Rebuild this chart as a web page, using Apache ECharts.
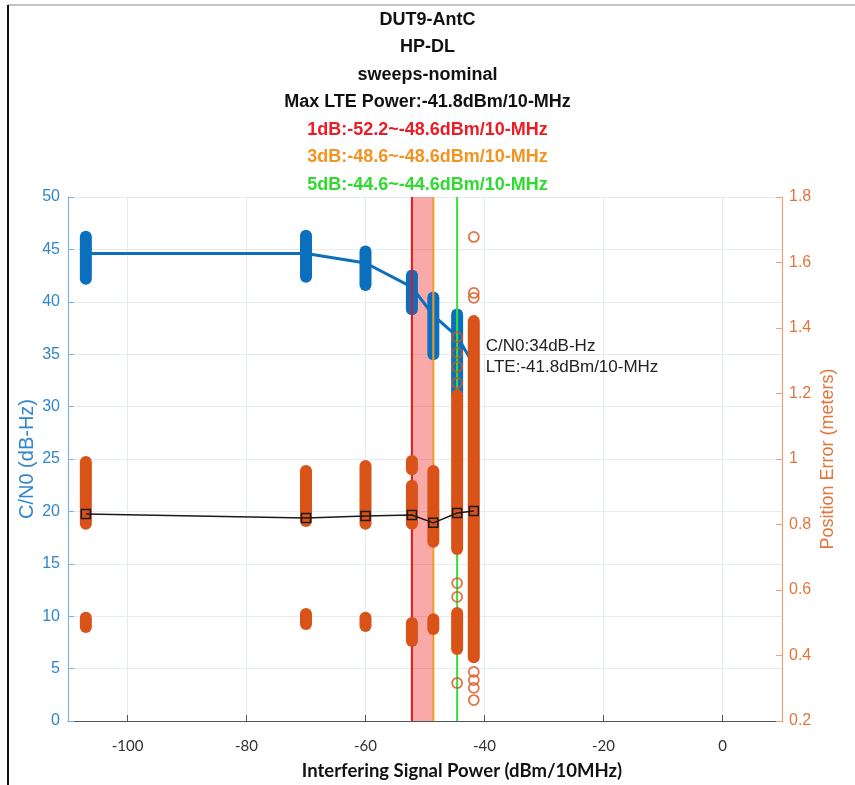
<!DOCTYPE html>
<html>
<head>
<meta charset="utf-8">
<title>DUT9-AntC HP-DL</title>
<script src="https://cdn.jsdelivr.net/npm/echarts@6/dist/echarts.min.js"></script>
<style>
  html, body { margin: 0; padding: 0; background: #fff; }
  #chart { width: 855px; height: 785px; }
</style>
</head>
<body>
<div id="chart"></div>
<script>
// ---- data ----
const deviceName = 'DUT9-AntC';
const testCase = 'HP-DL';
const sweepName = 'sweeps-nominal';
const maxLtePower = -41.8;
const cn0AtMax = 34;

// interference power levels of each sweep step (dBm/10MHz)
const powerLevels = [-107, -70, -60, -52.2, -48.6, -44.6, -41.8];

// C/N0 (dB-Hz): mean per step and the spread of its samples
const cn0Mean = [44.6, 44.6, 43.7, 41.4, 38.7, 36.7, 34];
const cn0SpreadPower = [-107, -70, -60, -52.2, -48.6, -44.6];
const cn0SpreadLow = [42.2, 42.4, 41.6, 39.3, 35.0, 31.0];
const cn0SpreadHigh = [46.2, 46.3, 44.8, 42.5, 40.4, 38.8];

// position error (m): mean per step
const posErrMean = [0.832, 0.820, 0.826, 0.829, 0.805, 0.835, 0.841];
// dense runs of position-error samples
const posRunPower = [-107, -107, -70, -70, -60, -60, -52.2, -52.2, -52.2, -48.6, -48.6, -44.6, -44.6, -41.8];
const posRunLow = [0.802, 0.487, 0.811, 0.496, 0.802, 0.490, 0.969, 0.802, 0.444, 0.747, 0.481, 0.725, 0.420, 0.395];
const posRunHigh = [0.991, 0.515, 0.963, 0.527, 0.979, 0.515, 0.994, 0.918, 0.499, 0.963, 0.511, 1.195, 0.530, 1.421];
// isolated position-error samples
const posDotPower = [-44.6, -44.6, -44.6, -44.6, -44.6, -44.6, -44.6, -41.8, -41.8, -41.8, -41.8, -41.8, -41.8, -41.8];
const posDotValue = [1.372, 1.324, 1.281, 1.232, 0.621, 0.579, 0.316, 1.678, 1.507, 1.492, 0.350, 0.325, 0.301, 0.264];

// degradation thresholds (dBm/10MHz)
const thresholdNames = ['1dB', '3dB', '5dB'];
const thresholdLow = [-52.2, -48.6, -44.6];
const thresholdHigh = [-48.6, -48.6, -44.6];

// axis ticks
const xTicks = [-100, -80, -60, -40, -20, 0];

// ---- styles ----
const BLUE = '#0a6fbd';
const ORANGE = '#d95319';
const BLUE_TEXT = '#2f86cb';
const ORANGE_TEXT = '#e0763a';
const thresholdColors = ['#ec1c24', '#f39322', '#2edb2e'];
const thresholdLineColors = ['#e8141b', '#f39a24', '#36e036'];
const SANS = '"Liberation Sans", Arial, Helvetica, sans-serif';
const XFONT = 'Lato, "Open Sans", sans-serif';

// ---- title ----
const titleRich = {
  k: { fontFamily: SANS, fontWeight: 'bold', fontSize: 18, color: '#111', lineHeight: 27.5 }
};
thresholdNames.forEach((n, i) => {
  titleRich['t' + i] = { fontFamily: SANS, fontWeight: 'bold', fontSize: 18, color: thresholdColors[i], lineHeight: 27.5 };
});
const titleLines = [
  '{k|' + deviceName + '}',
  '{k|' + testCase + '}',
  '{k|' + sweepName + '}',
  '{k|Max LTE Power:' + maxLtePower + 'dBm/10-MHz}'
].concat(thresholdNames.map((n, i) =>
  '{t' + i + '|' + n + ':' + thresholdLow[i] + '~' + thresholdHigh[i] + 'dBm/10-MHz}'));

// ---- series data ----
const cn0SpreadData = cn0SpreadPower.map((p, i) => [p, cn0SpreadLow[i], cn0SpreadHigh[i]]);
const posRunData = posRunPower.map((p, i) => [p, posRunLow[i], posRunHigh[i]]);
const posDotData = posDotPower.map((p, i) => [p, posDotValue[i]]);
const cn0MeanData = powerLevels.map((p, i) => [p, cn0Mean[i]]);
const posMeanData = powerLevels.map((p, i) => [p, posErrMean[i]]);

// vertical bar spanning low..high at a fixed power level
function runRenderer(color, width) {
  return function (params, api) {
    const x = api.value(0);
    const a = api.coord([x, api.value(1)]);
    const b = api.coord([x, api.value(2)]);
    return {
      type: 'line',
      shape: { x1: a[0], y1: a[1], x2: b[0], y2: b[1] },
      style: { stroke: color, lineWidth: width, lineCap: 'round' }
    };
  };
}

const chart = echarts.init(document.getElementById('chart'), null, { renderer: 'canvas' });

chart.setOption({
  animation: false,
  backgroundColor: '#ffffff',
  title: {
    left: 'center',
    top: 1,
    text: titleLines.join('\n'),
    textStyle: { rich: titleRich, fontSize: 18, lineHeight: 27.5 }
  },
  grid: { left: 68, right: 73, top: 197, bottom: 64, containLabel: false, outerBoundsMode: 'none' },
  xAxis: {
    type: 'value',
    min: -110,
    max: 10,
    name: 'Interfering Signal Power (dBm/10MHz)',
    nameLocation: 'middle',
    nameGap: 41,
    nameTextStyle: { fontFamily: XFONT, fontWeight: 'bold', fontSize: 18.5, color: '#111', padding: [0, 0, 0, 74] },
    axisLine: { show: true, onZero: false, lineStyle: { color: '#555', width: 1.2 } },
    axisTick: { show: true, inside: true, length: 6, customValues: xTicks, lineStyle: { color: '#555' } },
    axisLabel: { customValues: xTicks, margin: 18, fontFamily: XFONT, fontSize: 15, color: '#333' },
    splitLine: { show: true, lineStyle: { color: '#e3ebf3', width: 1 } }
  },
  yAxis: [
    {
      type: 'value',
      min: 0,
      max: 50,
      interval: 5,
      position: 'left',
      name: 'C/N0 (dB-Hz)',
      nameLocation: 'middle',
      nameRotate: 90,
      nameGap: 31,
      nameMoveOverlap: false,
      nameTextStyle: { fontFamily: SANS, fontSize: 20, color: BLUE_TEXT },
      axisLine: { show: true, onZero: false, lineStyle: { color: '#7fb3dd', width: 1.2 } },
      axisTick: { show: true, inside: true, length: 6, lineStyle: { color: '#7fb3dd' } },
      axisLabel: { margin: 8, fontFamily: SANS, fontSize: 16, color: BLUE_TEXT },
      splitLine: { show: true, lineStyle: { color: '#e3ebf3', width: 1 } }
    },
    {
      type: 'value',
      min: 0.2,
      max: 1.8,
      interval: 0.2,
      position: 'right',
      name: 'Position Error (meters)',
      nameLocation: 'middle',
      nameRotate: 90,
      nameGap: 37,
      nameMoveOverlap: false,
      nameTextStyle: { fontFamily: SANS, fontSize: 18, color: ORANGE_TEXT },
      axisLine: { show: true, onZero: false, lineStyle: { color: '#eba27c', width: 1.2 } },
      axisTick: { show: true, inside: true, length: 6, lineStyle: { color: '#eba27c' } },
      axisLabel: {
        margin: 7, fontFamily: SANS, fontSize: 16, color: ORANGE_TEXT,
        formatter: v => String(+v.toFixed(1))
      },
      splitLine: { show: false }
    }
  ],
  series: [
    // 1dB degradation region
    {
      type: 'custom',
      z: 1,
      silent: true,
      data: [[thresholdLow[0], thresholdHigh[0]]],
      encode: { x: [0, 1] },
      renderItem: function (params, api) {
        const a = api.coord([api.value(0), 50]);
        const b = api.coord([api.value(1), 0]);
        return {
          type: 'rect',
          shape: { x: a[0], y: a[1], width: b[0] - a[0], height: b[1] - a[1] },
          style: { fill: 'rgba(242,40,40,0.4)' }
        };
      }
    },
    // spread of C/N0 samples
    {
      type: 'custom',
      z: 2,
      silent: true,
      data: cn0SpreadData,
      encode: { x: 0, y: [1, 2] },
      renderItem: runRenderer(BLUE, 12)
    },
    // mean C/N0
    {
      type: 'line',
      z: 3,
      silent: true,
      data: cn0MeanData,
      showSymbol: false,
      symbol: 'none',
      lineStyle: { color: BLUE, width: 3 },
      markPoint: {
        symbol: 'circle',
        symbolSize: 0,
        silent: true,
        data: [{
          coord: [maxLtePower, cn0AtMax],
          label: {
            show: true,
            position: 'right',
            distance: 12,
            offset: [0, -8],
            formatter: 'C/N0:' + cn0AtMax + 'dB-Hz\nLTE:' + maxLtePower + 'dBm/10-MHz',
            fontFamily: SANS,
            fontSize: 17,
            lineHeight: 21,
            color: '#222',
            align: 'left'
          }
        }]
      }
    },
    // threshold markers
    {
      type: 'custom',
      z: 4,
      silent: true,
      data: thresholdLow.map((v, i) => [v, i]),
      encode: { x: 0 },
      renderItem: function (params, api) {
        const x = api.value(0);
        const a = api.coord([x, 50]);
        const b = api.coord([x, 0]);
        return {
          type: 'line',
          shape: { x1: a[0], y1: a[1], x2: b[0], y2: b[1] },
          style: { stroke: thresholdLineColors[api.value(1)], lineWidth: 2 }
        };
      }
    },
    // dense position-error runs
    {
      type: 'custom',
      z: 5,
      silent: true,
      yAxisIndex: 1,
      data: posRunData,
      encode: { x: 0, y: [1, 2] },
      renderItem: runRenderer(ORANGE, 12)
    },
    // isolated position-error samples
    {
      type: 'scatter',
      z: 5,
      silent: true,
      yAxisIndex: 1,
      data: posDotData,
      symbol: 'circle',
      symbolSize: 10,
      itemStyle: { color: 'rgba(0,0,0,0)', borderColor: ORANGE, borderWidth: 1.8 }
    },
    // mean position error
    {
      type: 'line',
      z: 6,
      silent: true,
      yAxisIndex: 1,
      data: posMeanData,
      symbol: 'rect',
      symbolSize: 9,
      showSymbol: true,
      lineStyle: { color: '#1a1a1a', width: 1.5 },
      itemStyle: { color: 'rgba(0,0,0,0)', borderColor: '#1a1a1a', borderWidth: 1.5 }
    }
  ],
  graphic: [
    { type: 'line', silent: true, shape: { x1: 8, y1: 5, x2: 855, y2: 5 }, style: { stroke: '#c4c4c4', lineWidth: 2 } },
    { type: 'line', silent: true, shape: { x1: 8, y1: 5, x2: 8, y2: 785 }, style: { stroke: '#111', lineWidth: 2 } }
  ]
});
</script>
</body>
</html>
